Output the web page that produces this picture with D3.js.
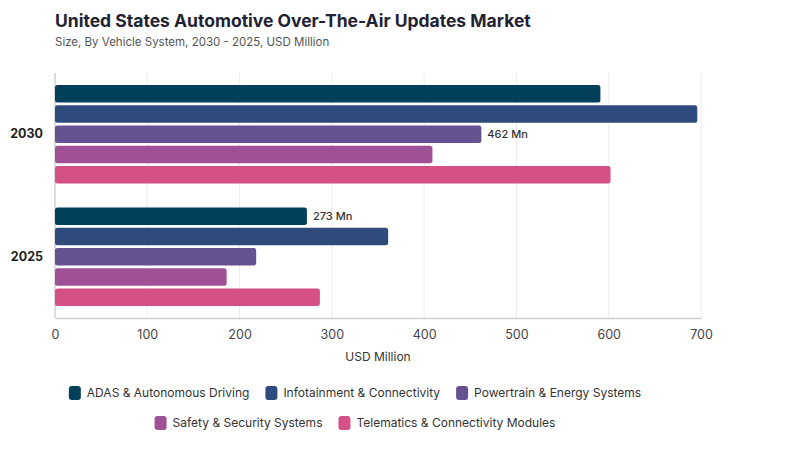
<!DOCTYPE html>
<html lang="en">
<head>
<meta charset="UTF-8">
<title>US Automotive OTA Updates Market</title>
<script src="https://cdn.jsdelivr.net/npm/d3@7"></script>
<style>
  body { margin: 0; background: #fff; font-family: Inter, "Noto Sans", sans-serif; }
</style>
</head>
<body>
<script>
// data
var years = ['2030', '2025'];
var systems = ['ADAS & Autonomous Driving', 'Infotainment & Connectivity', 'Powertrain & Energy Systems',
               'Safety & Security Systems', 'Telematics & Connectivity Modules'];
var values2030 = [591, 696, 462, 409, 602];
var values2025 = [273, 361, 218, 186, 287];
var colors = ['#023f5b', '#2f4b7c', '#665191', '#a05195', '#d45087'];
var xTicks = [0, 100, 200, 300, 400, 500, 600, 700];
// which bars carry a value label
var labelled = {'2030': 'Powertrain & Energy Systems', '2025': 'ADAS & Autonomous Driving'};

var width = 800, height = 450;
var margin = {top: 73, right: 99, bottom: 132, left: 55};

var svg = d3.select('body').append('svg')
    .attr('width', width)
    .attr('height', height);

// title
svg.append('text').attr('x', 55).attr('y', 27)
    .attr('font-size', 17.5).attr('font-weight', 700).attr('fill', '#1f2233')
    .text('United States Automotive Over-The-Air Updates Market');
svg.append('text').attr('x', 55).attr('y', 46)
    .attr('font-size', 11.5).attr('fill', '#555')
    .text('Size, By Vehicle System, 2030 - 2025, USD Million');

var rows = years.map(function(y) {
    var vals = y === '2030' ? values2030 : values2025;
    return {year: y, bars: systems.map(function(s, i) { return {year: y, system: s, value: vals[i]}; })};
});

var x = d3.scaleLinear().domain([0, 700]).range([margin.left, width - margin.right]);
var y0 = d3.scaleBand().domain(years).range([margin.top, height - margin.bottom]);
var y1 = d3.scaleBand().domain(systems).range([12, y0.bandwidth() - 12]).paddingInner(0.14);
var color = d3.scaleOrdinal().domain(systems).range(colors);

// grid
svg.append('g').selectAll('line').data(xTicks.slice(1)).enter().append('line')
    .attr('x1', function(d) { return x(d); }).attr('x2', function(d) { return x(d); })
    .attr('y1', margin.top).attr('y2', height - margin.bottom)
    .attr('stroke', '#ececec').attr('stroke-width', 1);

// x axis
var xAxis = svg.append('g')
    .attr('transform', 'translate(0,' + (height - margin.bottom) + ')')
    .call(d3.axisBottom(x).tickValues(xTicks).tickSize(0).tickPadding(12));
xAxis.select('.domain').attr('stroke', '#d0d0d0').attr('stroke-width', 1.5);
xAxis.selectAll('text').attr('font-size', 12.5).attr('fill', '#444').attr('font-family', 'Inter, sans-serif');

svg.append('line')
    .attr('x1', margin.left).attr('x2', margin.left)
    .attr('y1', margin.top).attr('y2', height - margin.bottom)
    .attr('stroke', '#d0d0d0').attr('stroke-width', 1.5);

svg.append('text').attr('x', (x(0) + x(700)) / 2).attr('y', 361)
    .attr('text-anchor', 'middle').attr('font-size', 12).attr('fill', '#333')
    .text('USD Million');

// y axis labels
var yAxis = svg.append('g')
    .attr('transform', 'translate(' + margin.left + ',0)')
    .call(d3.axisLeft(y0).tickSize(0).tickPadding(12));
yAxis.select('.domain').remove();
yAxis.selectAll('text').attr('font-size', 12.5).attr('font-weight', 700).attr('fill', '#222')
    .attr('font-family', 'Inter, sans-serif');

// bars
var groups = svg.selectAll('g.row').data(rows).enter().append('g')
    .attr('class', 'row')
    .attr('transform', function(d) { return 'translate(0,' + y0(d.year) + ')'; });

groups.selectAll('rect').data(function(d) { return d.bars; }).enter().append('rect')
    .attr('x', x(0))
    .attr('y', function(d) { return y1(d.system); })
    .attr('width', function(d) { return x(d.value) - x(0); })
    .attr('height', y1.bandwidth())
    .attr('rx', 2.5)
    .attr('fill', function(d) { return color(d.system); });

groups.selectAll('text.val').data(function(d) {
        return d.bars.filter(function(b) { return labelled[b.year] === b.system; });
    }).enter().append('text')
    .attr('class', 'val')
    .attr('x', function(d) { return x(d.value) + 6; })
    .attr('y', function(d) { return y1(d.system) + y1.bandwidth() / 2; })
    .attr('dy', '0.35em')
    .attr('font-size', 11).attr('font-weight', 500).attr('fill', '#333')
    .text(function(d) { return d.value + ' Mn'; });

// legend, wrapped into centred rows
var legend = svg.append('g');
var items = legend.selectAll('g').data(systems).enter().append('g');
items.append('rect').attr('width', 12).attr('height', 14).attr('rx', 3).attr('y', -7)
    .attr('fill', function(d) { return color(d); });
items.append('text').attr('x', 18).attr('dy', '0.35em')
    .attr('font-size', 12).attr('fill', '#333').text(function(d) { return d; });

var maxRow = 600, gap = 16, legendCx = 355, legendRows = [[]], rowW = [0];
items.each(function(d) {
    var w = 18 + this.querySelector('text').getComputedTextLength();
    var r = legendRows.length - 1;
    var add = (legendRows[r].length ? gap : 0) + w;
    if (rowW[r] + add > maxRow) { legendRows.push([]); rowW.push(0); r++; add = w; }
    legendRows[r].push({node: this, w: w});
    rowW[r] += add;
});
legendRows.forEach(function(row, r) {
    var cx = legendCx - rowW[r] / 2;
    row.forEach(function(it) {
        d3.select(it.node).attr('transform', 'translate(' + cx + ',' + (393 + r * 30) + ')');
        cx += it.w + gap;
    });
});
</script>
</body>
</html>
